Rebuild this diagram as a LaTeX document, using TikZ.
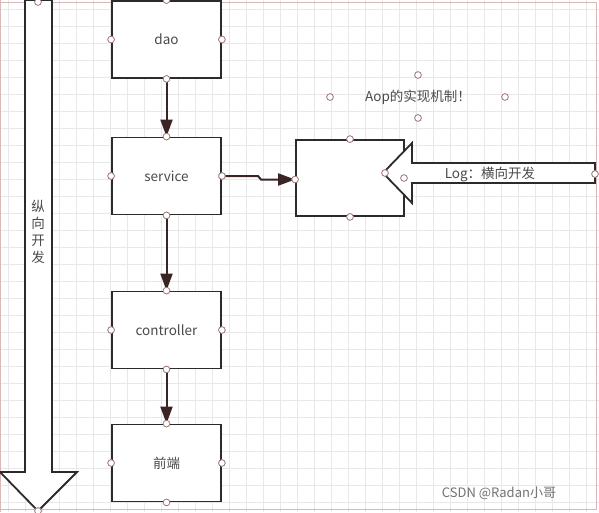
\documentclass[tikz,border=0pt]{standalone}
\usepackage{fontspec}
\setmainfont{Noto Sans CJK SC}
\usetikzlibrary{arrows.meta}
\definecolor{gridc}{HTML}{E8E8E8}
\definecolor{linec}{HTML}{2B2B2B}
\definecolor{conc}{HTML}{3A2424}
\definecolor{handc}{HTML}{A07878}
\definecolor{framec}{HTML}{D8B8B8}
\definecolor{textc}{HTML}{4A4A4A}
\tikzset{
  box/.style={draw=linec, line width=1.8pt, fill=white, minimum width=109pt, minimum height=77pt, inner sep=0pt, font=\fontsize{13.5}{15}\selectfont, text=textc},
  conn/.style={draw=conc, line width=2pt, -{Triangle[length=17pt,width=12pt]}},
  bigarrow/.style={draw=linec, line width=1.8pt, fill=white, line join=miter},
  handle/.style={draw=handc, fill=white, line width=0.7pt},
  lbl/.style={font=\fontsize{13.5}{15}\selectfont, text=textc, inner sep=0pt}
}
\newcommand{\hdl}[1]{\fill[handle] (#1) circle (3.3pt);\draw[handle] (#1) circle (3.3pt);}
\begin{document}
\begin{tikzpicture}[x=1pt,y=-1pt]
\useasboundingbox (0,0) rectangle (599,512);
\fill[white] (0,0) rectangle (599,512);
% grid
\foreach \x in {8,25,...,599} \draw[gridc, line width=0.6pt] (\x,0) -- (\x,512);
\foreach \y in {9,26,...,512} \draw[gridc, line width=0.6pt] (0,\y) -- (599,\y);
% frame
\draw[framec, line width=0.8pt] (0,2) -- (596,2) -- (596,509) -- (0,509);
\draw[framec, line width=0.8pt] (0.5,0) -- (0.5,512);
% left big arrow
\draw[bigarrow] (25,0) -- (52,0) -- (52,472) -- (77,472) -- (38,511) -- (0,472) -- (25,472) -- cycle;
\node[lbl, align=center] (vdev) at (38,232) {纵\\[2pt]向\\[2pt]开\\[2pt]发};
% boxes
\node[box] (dao) at (166.5,39.5) {dao};
\node[box] (service) at (166.5,176) {service};
\node[box] (controller) at (166.5,330) {controller};
\node[box] (front) at (166.5,463) {前端};
\node[box, minimum width=108pt, minimum height=76pt] (aop) at (350,178) {};
% log arrow
\draw[bigarrow] (595,163) -- (412,163) -- (412,143) -- (383,173) -- (412,203) -- (412,183) -- (595,183) -- cycle;
\node[lbl] (log) at (490,174) {Log：横向开发};
% Aop text
\node[lbl] (aoptxt) at (418,97) {Aop的实现机制！};
% connectors
\draw[conn] (dao.south) -- (service.north);
\draw[conn] (service.south) -- (controller.north);
\draw[conn] (controller.south) -- (front.north);
\coordinate (bend1) at (258,176);
\coordinate (bend2) at (261,179.5);
\draw[conn] (service.east) -- (bend1) -- (bend2) -- (aop.west |- bend2);
% handles
\foreach \n in {dao,service,controller,front}{
  \hdl{\n.north}\hdl{\n.south}\hdl{\n.east}\hdl{\n.west}
}
\hdl{aop.north}\hdl{aop.south}\hdl{aop.west |- bend2}
\coordinate (h1) at (385,173); \hdl{h1}
\coordinate (h2) at (404,178); \hdl{h2}
\coordinate (h3) at (595,174); \hdl{h3}
\coordinate (h4) at (38,511); \hdl{h4}
\coordinate (h5) at (38,2); \hdl{h5}
\coordinate (h6) at (418,75); \hdl{h6}
\coordinate (h7) at (330,97); \hdl{h7}
\coordinate (h8) at (505,97); \hdl{h8}
\coordinate (h9) at (418,118); \hdl{h9}
% watermark
\node[font=\fontsize{13}{15}\selectfont, text=black!55, inner sep=0pt] (wm) at (499,493) {CSDN @Radan小哥};
\end{tikzpicture}
\end{document}
